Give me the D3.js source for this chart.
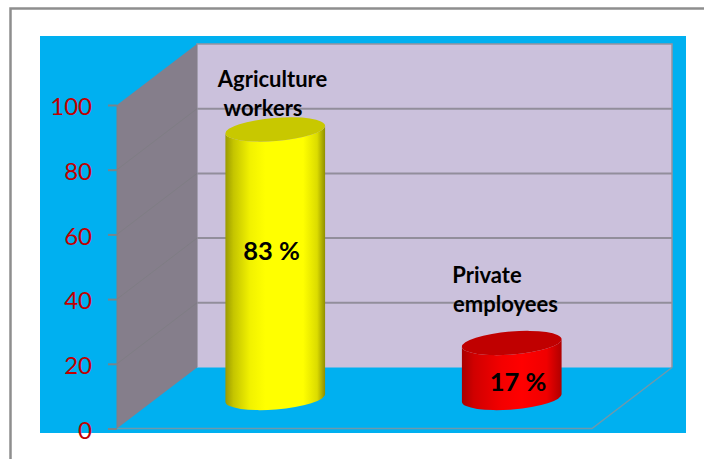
<!DOCTYPE html>
<html>
<head>
<meta charset="utf-8">
<script src="https://cdn.jsdelivr.net/npm/d3@7/dist/d3.min.js"></script>
<style>
  html, body { margin: 0; padding: 0; background: #fff; }
  svg { display: block; }
  text { font-family: Lato, "Open Sans", sans-serif; }
</style>
</head>
<body>
<div id="chart"></div>
<script>
// Chart data
const categories = ["Agriculture workers", "Private employees"];
const shares = [83, 17];
const labelLines = [["Agriculture", "workers"], ["Private", "employees"]];
const yTicks = [0, 20, 40, 60, 80, 100];
const gridTicks = [20, 40, 60, 80];

// Palette for each cylinder: side shading stops and lid colour
const bodyStops = [
  [[0, "#9a9a00"], [0.08, "#c4c400"], [0.25, "#f2f200"], [0.4, "#ffff00"], [0.78, "#ffff00"], [0.92, "#dcdc00"], [1, "#8f8f00"]],
  [[0, "#a80000"], [0.12, "#d00000"], [0.4, "#f40000"], [0.6, "#ff0000"], [0.85, "#f00000"], [1, "#b00000"]]
];
const lidColors = ["#c8c800", "#c00000"];

const width = 704, height = 459;

// Oblique projection of the 3D box: depth shifts points right and up
const depth = { dx: 80, dy: -61 };
const frontLeft = 117, frontRight = 592;

const y = d3.scaleLinear().domain([0, 100]).range([428.5, 105]);
const x = d3.scaleBand().domain(categories).range([157, 630]);

const svg = d3.select("#chart").append("svg")
  .attr("width", width).attr("height", height);

// Outer frame, open on the right and bottom
svg.append("path")
  .attr("d", `M10.5,${height}V8.5H${width}`)
  .attr("fill", "none").attr("stroke", "#8e8e8e").attr("stroke-width", 2.5);

// Chart area background
svg.append("rect")
  .attr("x", 40).attr("y", 36).attr("width", 646).attr("height", 397)
  .attr("fill", "#00b0f0");

const y0 = y(0), y100 = y(100);
const backLeft = frontLeft + depth.dx, backRight = frontRight + depth.dx;
const poly = pts => "M" + pts.map(p => p.join(",")).join("L") + "Z";

// Back wall
svg.append("rect")
  .attr("x", backLeft).attr("y", y100 + depth.dy)
  .attr("width", backRight - backLeft).attr("height", y0 - y100)
  .attr("fill", "#cbc1dc");
svg.append("path")
  .attr("d", `M${backLeft},${y0 + depth.dy}V${y100 + depth.dy}H${backRight}V${y0 + depth.dy}`)
  .attr("fill", "none").attr("stroke", "#96929f").attr("stroke-width", 1.5);

// Side wall
svg.append("path")
  .attr("d", poly([[frontLeft, y100], [backLeft, y100 + depth.dy], [backLeft, y0 + depth.dy], [frontLeft, y0]]))
  .attr("fill", "#857e8b");

// Gridlines run along the side wall, then across the back wall
const grid = svg.append("g");
grid.selectAll("line.side").data(gridTicks).join("line")
  .attr("class", "side")
  .attr("x1", frontLeft).attr("x2", backLeft)
  .attr("y1", d => y(d)).attr("y2", d => y(d) + depth.dy)
  .attr("stroke", "#7f7d84").attr("stroke-width", 1);
grid.selectAll("line.back").data(gridTicks).join("line")
  .attr("class", "back")
  .attr("x1", backLeft).attr("x2", backRight)
  .attr("y1", d => y(d) + depth.dy).attr("y2", d => y(d) + depth.dy)
  .attr("stroke", "#928e9b").attr("stroke-width", 2);

// Floor outline
svg.append("path")
  .attr("d", `M${frontLeft},${y0}H${frontRight}L${backRight},${y0 + depth.dy}`)
  .attr("fill", "none").attr("stroke", "#6f98ab").attr("stroke-width", 1.5);

// Value axis
const axis = svg.append("g")
  .attr("transform", `translate(${frontLeft},0)`)
  .call(d3.axisLeft(y).tickValues(yTicks).tickSize(9).tickPadding(16));
axis.select(".domain").attr("stroke", "#7f7f88").attr("stroke-width", 1).attr("d", `M0,${y0}V${y100}`);
axis.selectAll(".tick line").attr("stroke", "#77848c").attr("stroke-width", 2);
axis.selectAll(".tick text")
  .attr("fill", "#c00000").attr("font-size", 24).attr("dy", "0.4em")
  .style("font-family", "Lato, sans-serif");

// Cylinders stand halfway into the box depth
const defs = svg.append("defs");
const rx = 50, ry = 11.5, tilt = -4.6 * Math.PI / 180;
const midDrop = depth.dy / 2;
const ex = rx * Math.cos(tilt), ey = rx * Math.sin(tilt);

shares.forEach((v, i) => {
  const grad = defs.append("linearGradient").attr("id", "body" + i)
    .attr("x1", 0).attr("x2", 1).attr("y1", 0).attr("y2", 0);
  bodyStops[i].forEach(s => grad.append("stop").attr("offset", s[0]).attr("stop-color", s[1]));

  const cx = x(categories[i]) + x.bandwidth() / 2;
  const top = y(v) + midDrop;
  const base = y(0) + midDrop;
  const deg = tilt * 180 / Math.PI;

  const g = svg.append("g");
  g.append("path")
    .attr("d", `M${cx - ex},${top - ey}L${cx - ex},${base - ey}` +
               `A${rx},${ry} ${deg} 0 0 ${cx + ex},${base + ey}` +
               `L${cx + ex},${top + ey}` +
               `A${rx},${ry} ${deg} 0 1 ${cx - ex},${top - ey}Z`)
    .attr("fill", `url(#body${i})`);
  g.append("ellipse")
    .attr("cx", cx).attr("cy", top).attr("rx", rx).attr("ry", ry)
    .attr("transform", `rotate(${deg} ${cx} ${top})`)
    .attr("fill", lidColors[i]);
});

// Text annotations: category names and the stated shares
const labelAnchors = [
  { lines: [[272.5, 87], [263, 116]], value: [271.5, 260] },
  { lines: [[487, 283], [505.5, 312]], value: [518, 391] }
];
labelLines.forEach((lines, i) => {
  lines.forEach((t, j) => {
    svg.append("text")
      .attr("x", labelAnchors[i].lines[j][0]).attr("y", labelAnchors[i].lines[j][1])
      .attr("text-anchor", "middle").attr("font-size", 22).attr("font-weight", 700)
      .attr("fill", "#000").text(t);
  });
  svg.append("text")
    .attr("x", labelAnchors[i].value[0]).attr("y", labelAnchors[i].value[1])
    .attr("text-anchor", "middle").attr("font-size", 25.5).attr("font-weight", 700)
    .attr("fill", "#000").text(`${shares[i]} %`);
});
</script>
</body>
</html>
